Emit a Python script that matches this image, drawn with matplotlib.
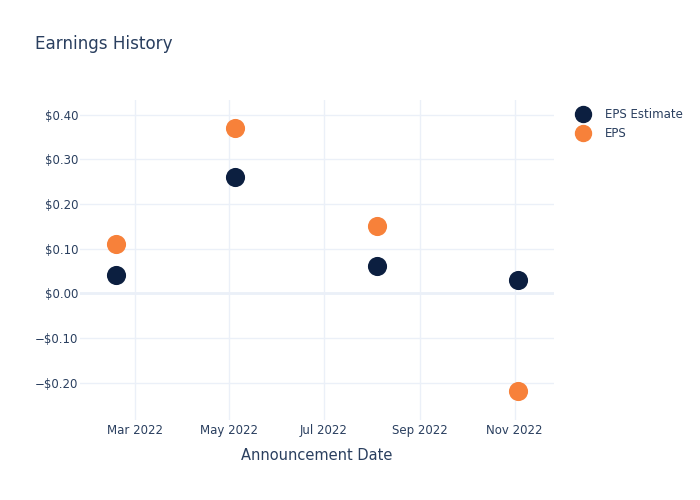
import numpy as np
import pandas as pd
import matplotlib.pyplot as plt
import matplotlib.dates as mdates
from matplotlib.ticker import FuncFormatter
from matplotlib.lines import Line2D

dates = pd.to_datetime(["2022-02-17", "2022-05-05", "2022-08-04", "2022-11-03"])
eps_estimate = [0.04, 0.26, 0.06, 0.03]
eps_actual = [0.11, 0.37, 0.15, -0.22]

navy = "#0c1f40"
orange = "#f7813a"
text_col = "#2a3f5f"
grid_col = "#ebf0f8"

fig = plt.figure(figsize=(7, 5), dpi=100)
ax = fig.add_axes([80 / 700, 80 / 500, 474 / 700, 320 / 500])

ax.scatter(dates, eps_estimate, s=190, color=navy, zorder=3, linewidths=0)
ax.scatter(dates, eps_actual, s=190, color=orange, zorder=3, linewidths=0)

ax.set_xlim(pd.Timestamp("2022-01-24 20:00"), pd.Timestamp("2022-11-26 10:00"))
ax.set_ylim(-0.284, 0.433)

ax.xaxis.set_major_locator(mdates.MonthLocator(bymonth=[3, 5, 7, 9, 11]))
ax.xaxis.set_major_formatter(mdates.DateFormatter("%b %Y"))
ax.set_yticks([-0.2, -0.1, 0.0, 0.1, 0.2, 0.3, 0.4])
ax.yaxis.set_major_formatter(FuncFormatter(
    lambda v, p: ("\u2212$%.2f" % abs(v)) if v < -1e-9 else "$%.2f" % abs(v)))

ax.grid(True, color=grid_col, linewidth=1)
ax.axhline(0, color=grid_col, linewidth=2, zorder=1)
ax.set_axisbelow(True)
for s in ax.spines.values():
    s.set_visible(False)
ax.tick_params(axis="x", length=0, labelsize=8.5, labelcolor=text_col, pad=3)
ax.tick_params(axis="y", length=0, labelsize=8.5, labelcolor=text_col, pad=1)

ax.set_xlabel("Announcement Date", fontsize=10.5, color=text_col, labelpad=8)
fig.text(35 / 700, 1 - 44 / 500, "Earnings History", fontsize=12.1, color=text_col,
         va="center", ha="left")

handles = [
    Line2D([], [], marker="o", linestyle="", markersize=11.5, color=navy, label="EPS Estimate"),
    Line2D([], [], marker="o", linestyle="", markersize=11.5, color=orange, label="EPS"),
]
leg = fig.legend(handles=handles, loc="upper left", bbox_to_anchor=(571 / 700, 1 - 103 / 500),
                 frameon=False, fontsize=8.5, handletextpad=1.3, labelspacing=0.55,
                 handlelength=1.2, borderaxespad=0)
for t in leg.get_texts():
    t.set_color(text_col)

fig.savefig("out.png")
